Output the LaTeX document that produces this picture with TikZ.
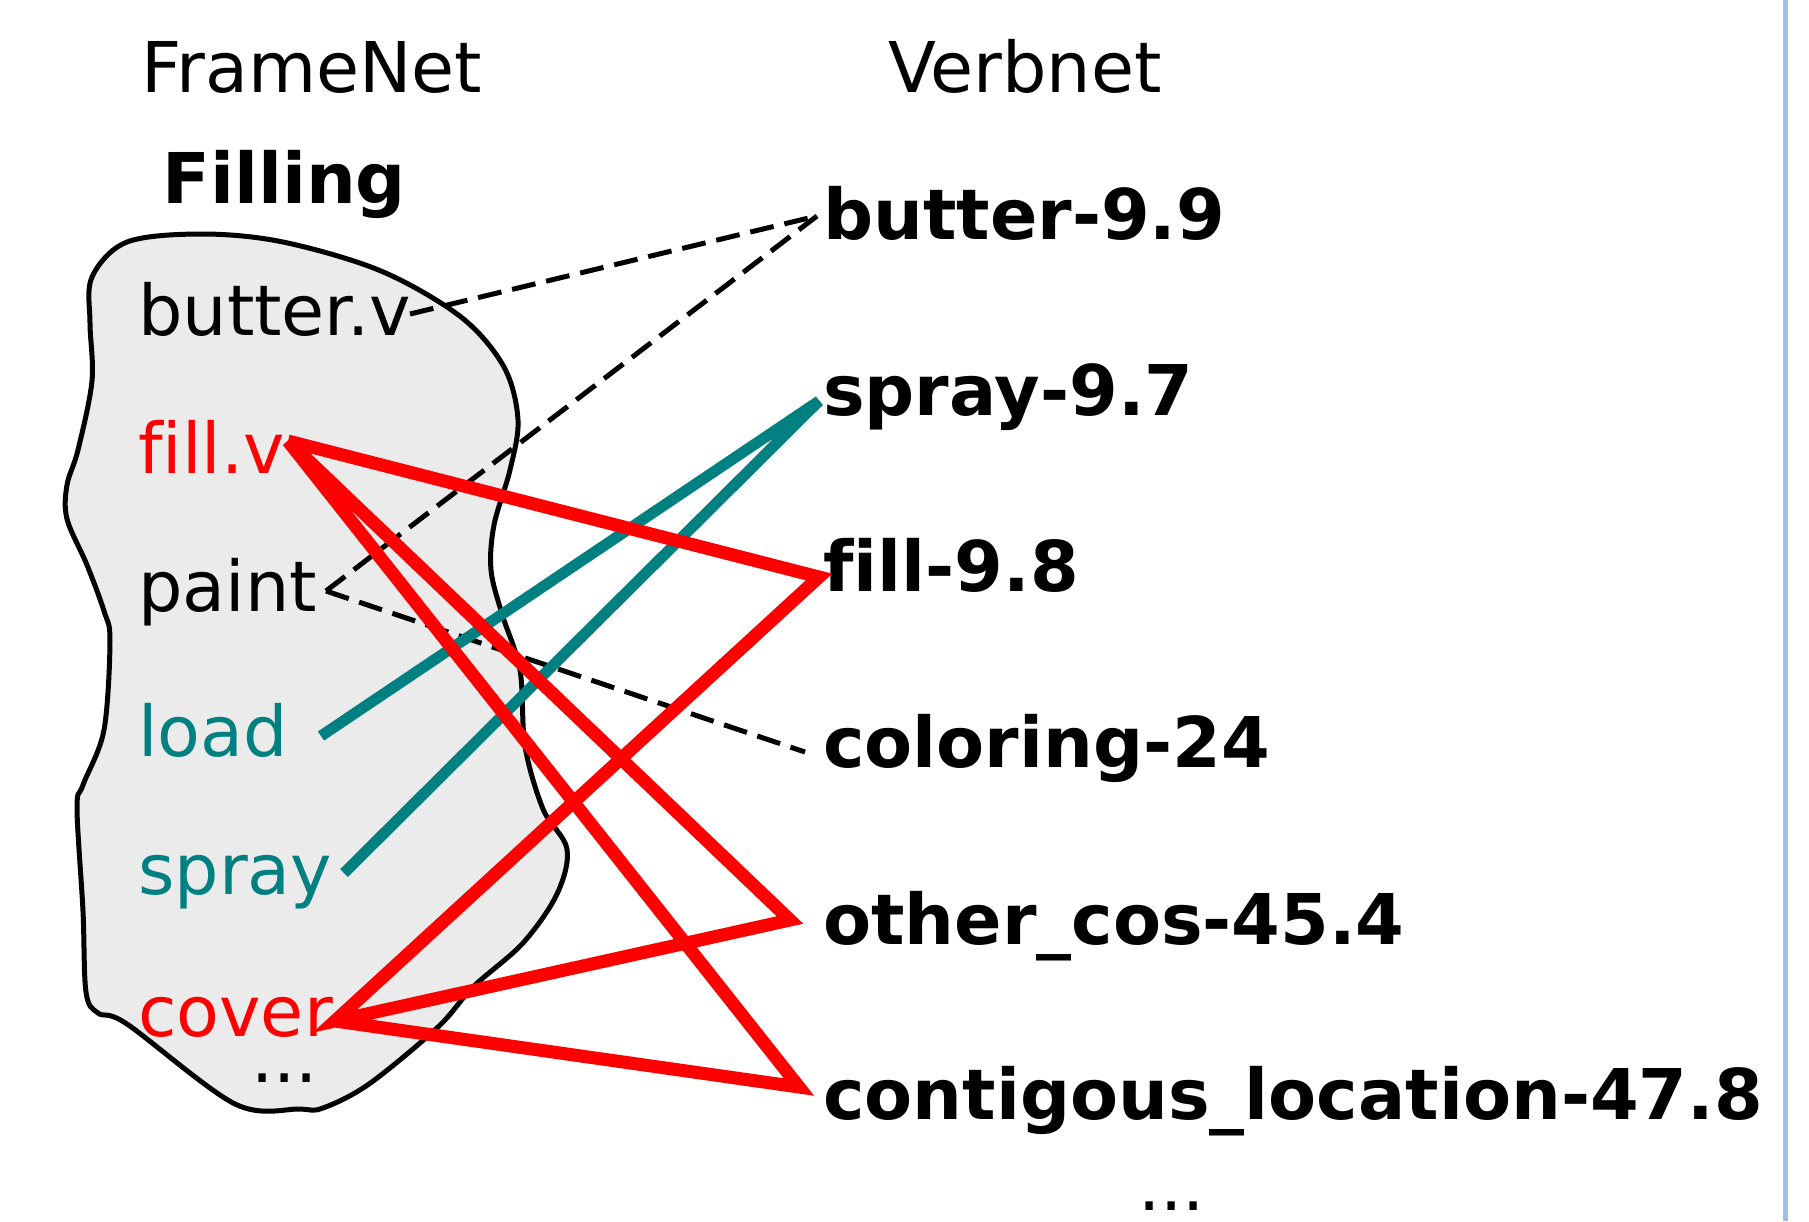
\documentclass[tikz,border=0pt]{standalone}
\usepackage{fontspec}
\setmainfont[Ligatures=NoCommon]{DejaVu Sans}
\definecolor{linkred}{RGB}{255,0,0}
\definecolor{linkteal}{RGB}{0,128,128}
\definecolor{blobfill}{RGB}{235,235,235}
\definecolor{sideblue}{RGB}{155,194,230}
\begin{document}
\begin{tikzpicture}[x=1pt,y=-1pt,
  lbl/.style={anchor=base west, inner sep=0pt, font=\fontsize{70}{80}\selectfont},
  cls/.style={anchor=base west, inner sep=0pt, font=\fontsize{70}{80}\selectfont\bfseries},
  hint/.style={line width=5pt, dash pattern=on 24pt off 11pt},
  redlink/.style={line width=13pt, draw=linkred, line join=miter},
  teallink/.style={line width=11pt, draw=linkteal, line join=miter}]
\useasboundingbox (0,0) rectangle (1809,1221);

% separator on the right
\draw[sideblue, line width=5pt] (1785,0) -- (1785,1221);

% the FrameNet frame as a free-hand blob
\draw[line width=5pt, fill=blobfill] plot[smooth cycle, tension=0.55] coordinates {
  (202,234) (283,242) (381,271) (461,317) (504,367) (518,420) (510,470)
  (494,525) (491,570) (502,614) (520,670) (525,746) (543,809)
  (567,849) (557,894) (523,943) (473,987) (438,1027) (369,1084) (323,1108) (300,1109)
  (235,1104) (127,1024) (98,1013) (86,992) (83,911) (77,808) (83,785)
  (104,730) (110,640) (104,611) (87,565) (67,519) (67,485) (78,450)
  (92,381) (90,323) (92,277) (127,242)};

% headings
\node[lbl] (hfn) at (141,92) {FrameNet};
\node[lbl] (hvn) at (888,92) {Verbnet};
\node[cls] (frame) at (162,203) {Filling};

% lexical units
\node[lbl] (butterv) at (138,335) {butter.v};
\node[lbl, text=linkred] (fillv) at (138,473) {fill.v};
\node[lbl] (paint) at (138,611) {paint};
\node[lbl, text=linkteal] (load) at (138,756) {load};
\node[lbl, text=linkteal] (spray) at (138,894) {spray};
\node[lbl, text=linkred] (cover) at (138,1036) {cover};
\node[lbl, text height=10pt] (lmore) at (251,1082) {...};

% VerbNet classes
\node[cls] (c99) at (823,239) {butter-9.9};
\node[cls] (c97) at (823,415) {spray-9.7};
\node[cls] (c98) at (823,591) {fill-9.8};
\node[cls] (c24) at (823,767) {coloring-24};
\node[cls] (c454) at (823,944) {other\_cos-45.4};
\node[cls] (c478) at (823,1119) {contigous\_location-47.8};
\node[lbl, text height=10pt] (rmore) at (1138,1210) {...};

% connector end points
\coordinate (pbutterv) at (410,314);
\coordinate (pfillv) at (288,441);
\coordinate (ppaint) at (326,591);
\coordinate (pload) at (321,736);
\coordinate (pspray) at (344,873);
\coordinate (pcover) at (335,1021);
\coordinate (q99) at (817,216);
\coordinate (q97) at (819,401);
\coordinate (q98) at (819,577);
\coordinate (q24) at (805,752);
\coordinate (q454) at (790,920);
\coordinate (q478) at (799,1087);

% weak links
\draw[hint] (pbutterv) -- (q99);
\draw[hint] (ppaint) -- (q99) (ppaint) -- (q24);

% teal links
\draw[teallink] (pload) -- (q97) -- (pspray);

% red links
\draw[redlink] (pfillv) -- (q98) -- (pcover) -- (q454) -- (pfillv) -- (q478) -- (pcover);
\end{tikzpicture}
\end{document}
